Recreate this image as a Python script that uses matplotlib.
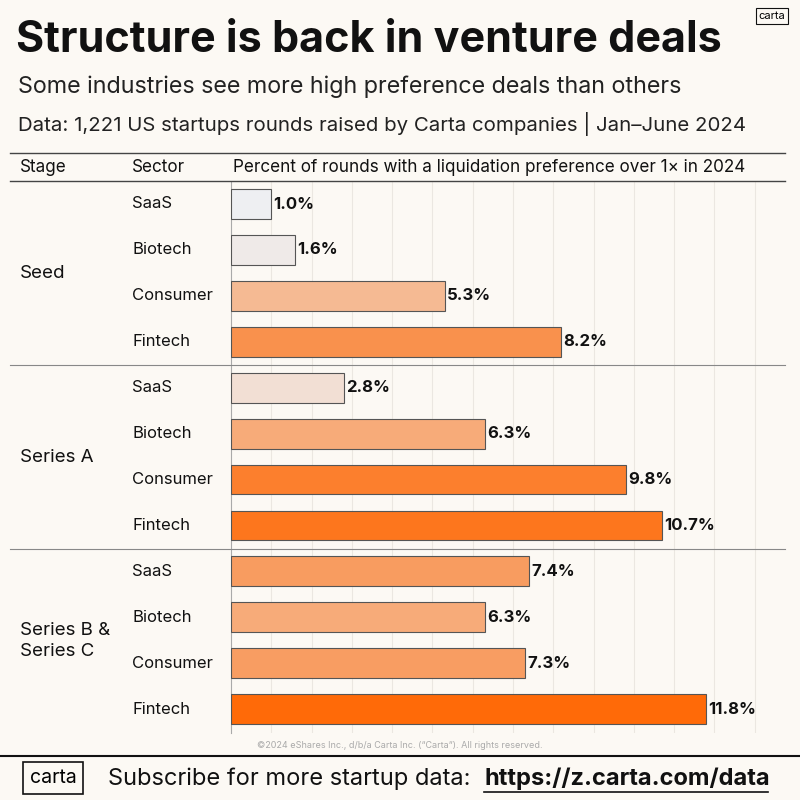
import matplotlib.pyplot as plt
from matplotlib.colors import LinearSegmentedColormap

plt.rcParams['font.family'] = ['Inter', 'DejaVu Sans']

stages = ['Seed', 'Series A', 'Series B &\nSeries C']
sectors = ['SaaS', 'Biotech', 'Consumer', 'Fintech']
values = [1.0, 1.6, 5.3, 8.2,
          2.8, 6.3, 9.8, 10.7,
          7.4, 6.3, 7.3, 11.8]

bg = '#fcf9f4'
cmap = LinearSegmentedColormap.from_list(
    'c', [(0, '#eeeff2'), (0.2, '#f3dccd'), (0.45, '#f6b183'), (0.7, '#fa8c45'), (1, '#ff6a08')])

fig = plt.figure(figsize=(8, 8), dpi=100, facecolor=bg)
H = 800.0


def fy(py):
    return 1 - py / H


ax = fig.add_axes([231 / 800, fy(733), (785 - 231) / 800, (733 - 182) / 800])
ax.set_facecolor(bg)
n = len(values)
ypos = list(range(n))
colors = [cmap((v - 1.0) / 10.8) for v in values]
ax.barh(ypos, values, height=0.65, color=colors, edgecolor='#555555', linewidth=0.8, zorder=3)
for y, v in zip(ypos, values):
    ax.text(v + 0.05, y, f'{v:.1f}%', va='center', ha='left', fontsize=12,
            fontweight='bold', color='#111111', zorder=4)
ax.set_xlim(0, 13.75)
ax.set_ylim(n - 0.5 + 0.02, -0.5 + 0.02)
ax.set_xticks(range(1, 14))
ax.grid(axis='x', color='#ebe7e1', linewidth=0.8, zorder=0)
ax.tick_params(left=False, bottom=False, labelleft=False, labelbottom=False)
for s in ['top', 'right', 'bottom']:
    ax.spines[s].set_visible(False)
ax.spines['left'].set_color('#aaaaaa')

# titles
fig.text(16 / 800, fy(40), 'Structure is back in venture deals', fontsize=31, fontweight='bold',
         va='center', color='#111111')
fig.text(18 / 800, fy(87), 'Some industries see more high preference deals than others', fontsize=16.8,
         va='center', color='#222222')
fig.text(18 / 800, fy(124), 'Data: 1,221 US startups rounds raised by Carta companies | Jan\u2013June 2024',
         fontsize=14.7, va='center', color='#222222')
fig.text(772 / 800, fy(16), 'carta', fontsize=8, ha='center', va='center',
         bbox=dict(boxstyle='square,pad=0.25', fc=bg, ec='#111111', lw=0.8))

# header
fig.add_artist(plt.Line2D([10 / 800, 785 / 800], [fy(153), fy(153)], color='#444444', lw=1))
fig.add_artist(plt.Line2D([10 / 800, 785 / 800], [fy(181), fy(181)], color='#444444', lw=1))
fig.text(20 / 800, fy(167), 'Stage', fontsize=12.3, va='center', color='#111111')
fig.text(132 / 800, fy(167), 'Sector', fontsize=12.3, va='center', color='#111111')
fig.text(233 / 800, fy(167), 'Percent of rounds with a liquidation preference over 1\u00d7 in 2024',
         fontsize=12.3, va='center', color='#111111')

for i, st in enumerate(stages):
    top = 181 + i * 184
    fig.text(20 / 800, fy(top + 92), st, fontsize=13.5, va='center', color='#111111', linespacing=1.3)
    if i > 0:
        fig.add_artist(plt.Line2D([10 / 800, 785 / 800], [fy(top), fy(top)], color='#888888', lw=0.8))
    for j, sec in enumerate(sectors):
        fig.text(132 / 800, fy(top + 23 + j * 46), sec, fontsize=12, va='center', color='#111111')

# footer
fig.text(400 / 800, fy(745), '\u00a92024 eShares Inc., d/b/a Carta Inc. (\u201cCarta\u201d). All rights reserved.',
         fontsize=6.5, ha='center', va='center', color='#aaaaaa')
fig.add_artist(plt.Line2D([0, 1], [fy(756), fy(756)], color='#111111', lw=1.5))
fig.text(53 / 800, fy(778), 'carta', fontsize=14, ha='center', va='center',
         bbox=dict(boxstyle='square,pad=0.35', fc=bg, ec='#111111', lw=1.2))
fig.text(108 / 800, fy(779), 'Subscribe for more startup data:', fontsize=17, va='center', color='#111111')
fig.text(484 / 800, fy(779), 'https://z.carta.com/data', fontsize=17, va='center',
         fontweight='bold', color='#111111')
fig.add_artist(plt.Line2D([484 / 800, 768 / 800], [fy(792), fy(792)], color='#111111', lw=1.2))

fig.savefig('out.png', dpi=100, facecolor=bg)
